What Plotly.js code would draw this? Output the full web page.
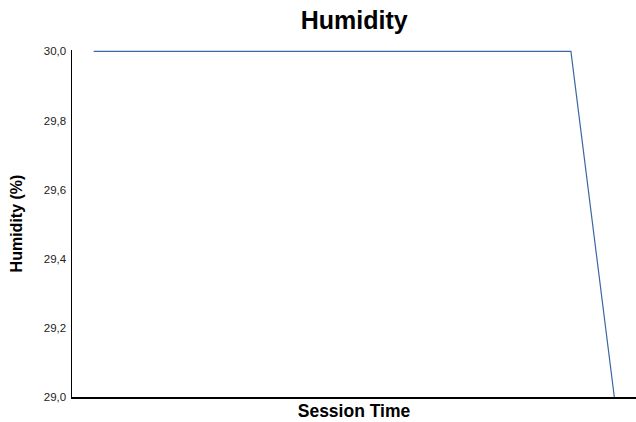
<!DOCTYPE html>
<html>
<head>
<meta charset="utf-8">
<script src="https://cdn.plot.ly/plotly-3.0.1.min.js"></script>
<style>html,body{margin:0;padding:0;background:#fff;}#chart{width:636px;height:422px;}</style>
</head>
<body>
<div id="chart"></div>
<script>
const sessionTime = ["00:00","00:05","00:10","00:15","00:20","00:25","00:30","00:35","00:40","00:45","00:50","00:55","01:00"];
const humidity = [30, 30, 30, 30, 30, 30, 30, 30, 30, 30, 30, 30, 29];
const yTicks = [29.0, 29.2, 29.4, 29.6, 29.8, 30.0];

const font = "Liberation Sans, Arial, sans-serif";
Plotly.newPlot("chart", [{
  x: sessionTime,
  y: humidity,
  type: "scatter",
  mode: "lines",
  line: {color: "#3a66a6", width: 1.2},
  hoverinfo: "skip"
}], {
  width: 636, height: 422,
  margin: {l: 72, r: 0, t: 50, b: 25},
  paper_bgcolor: "#fff", plot_bgcolor: "#fff",
  separators: ", ",
  showlegend: false,
  title: {text: "Humidity", font: {family: font, size: 25, color: "#000", weight: "bold"}, x: 0.557, xanchor: "center", yref: "container", y: 0.952, yanchor: "middle"},
  xaxis: {
    type: "category",
    range: [-0.5, 12.5],
    showticklabels: false,
    showgrid: false, zeroline: false,
    showline: true, linecolor: "#000", linewidth: 1.5,
    ticks: "",
    title: {text: "Session Time", font: {family: font, size: 17.5, color: "#000", weight: "bold"}, standoff: 7}
  },
  yaxis: {
    range: [29, 30.004],
    tickvals: yTicks,
    tickformat: ".1f",
    showgrid: false, zeroline: false,
    showline: true, linecolor: "#000", linewidth: 1.5,
    ticks: "", ticklen: 0,
    ticklabelstandoff: 2,
    tickfont: {family: font, size: 11.5, color: "#222"},
    title: {text: "Humidity (%)", font: {family: font, size: 16, color: "#000", weight: "bold"}, standoff: 17}
  }
}, {staticPlot: true, displayModeBar: false});
</script>
</body>
</html>
